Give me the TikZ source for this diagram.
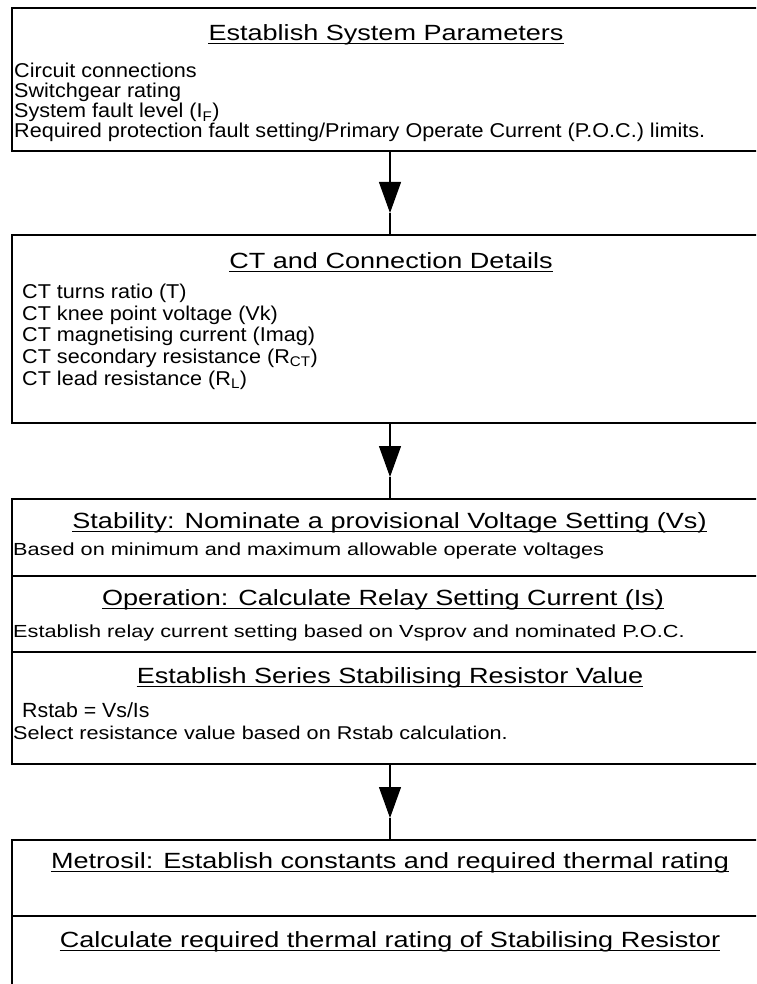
\documentclass[tikz,border=0pt]{standalone}
\usepackage{fontspec}
\setmainfont{Liberation Sans}
\newfontfamily\headfont[FakeStretch=1.23]{Liberation Sans}
\newfontfamily\bodyfont[FakeStretch=1.08]{Liberation Sans}
\newfontfamily\subfont[FakeStretch=1.24]{Liberation Sans}
\newfontfamily\selfont[FakeStretch=1.17]{Liberation Sans}
\newfontfamily\rsfont[FakeStretch=1.04]{Liberation Sans}
\usetikzlibrary{arrows.meta}
\newcommand\myul[1]{\draw[uline] ([yshift=-3pt]#1.base west) -- ([yshift=-3pt]#1.base east);}
\begin{document}
\begin{tikzpicture}[x=1pt,y=1pt,
  box/.style={draw=black, line width=1.2pt, rectangle, inner sep=0pt, outer sep=0pt, anchor=north west, minimum width=756pt},
  divider/.style={draw=black, line width=1.2pt},
  conn/.style={draw=black, line width=1.1pt},
  tipped/.style={conn, -{Triangle[width=22pt,length=31pt]}},
  uline/.style={draw=black, line width=1pt},
  head/.style={inner sep=0pt, anchor=base, font=\headfont\fontsize{22}{22}\selectfont},
  body/.style={inner sep=0pt, anchor=base west, font=\bodyfont\fontsize{20}{20}\selectfont},
  sub/.style={inner sep=0pt, anchor=base west, font=\subfont\fontsize{17.5}{17.5}\selectfont},
  sel/.style={inner sep=0pt, anchor=base west, font=\selfont\fontsize{18.5}{18.5}\selectfont},
  rs/.style={inner sep=0pt, anchor=base west, font=\rsfont\fontsize{20.5}{20.5}\selectfont}
]
\useasboundingbox (0,0) rectangle (756,-984);
\clip (0,0) rectangle (756,-984);

% boxes
\node[box, minimum height=143pt] (b1) at (12,-8) {};
\node[box, minimum height=188pt] (b2) at (12,-235) {};
\node[box, minimum height=265pt] (b3) at (12,-499) {};
\node[box, minimum height=160pt] (b4) at (12,-840) {};
\draw[divider] (12,-576) -- (768,-576);
\draw[divider] (12,-652) -- (768,-652);
\draw[divider] (12,-916) -- (768,-916);

% connectors
\coordinate (t1) at ([yshift=22pt]b2.north);
\coordinate (t2) at ([yshift=22pt]b3.north);
\coordinate (t3) at ([yshift=22pt]b4.north);
\draw[tipped] (b1.south) -- (t1);
\draw[conn] (t1) -- (b2.north);
\draw[tipped] (b2.south) -- (t2);
\draw[conn] (t2) -- (b3.north);
\draw[tipped] (b3.south) -- (t3);
\draw[conn] (t3) -- (b4.north);

% box 1
\node[head] (h1) at (386,-41) {Establish System Parameters};
\myul{h1}
\node[body] (l11) at (14,-78) {Circuit connections};
\node[body] (l12) at (14,-98) {Switchgear rating};
\node[body] (l13) at (14,-118) {System fault level (I\textsubscript{F})};
\node[body] (l14) at (14,-138) {Required protection fault setting/Primary Operate Current (P.O.C.) limits.};

% box 2
\node[head] (h2) at (391,-268) {CT and Connection Details};
\myul{h2}
\node[body] (l21) at (22,-298) {CT turns ratio (T)};
\node[body] (l22) at (22,-320) {CT knee point voltage (Vk)};
\node[body] (l23) at (22,-341.5) {CT magnetising current (Imag)};
\node[body] (l24) at (22,-363) {CT secondary resistance (R\textsubscript{CT})};
\node[body] (l25) at (22,-385) {CT lead resistance (R\textsubscript{L})};

% box 3
\node[head] (h31) at (389.5,-528) {Stability: Nominate a provisional Voltage Setting (Vs)};
\myul{h31}
\node[sub] (l31) at (13,-555) {Based on minimum and maximum allowable operate voltages};
\node[head] (h32) at (383,-605) {Operation: Calculate Relay Setting Current (Is)};
\myul{h32}
\node[sub] (l32) at (13,-637) {Establish relay current setting based on Vsprov and nominated P.O.C.};
\node[head] (h33) at (390,-683) {Establish Series Stabilising Resistor Value};
\myul{h33}
\node[rs] (l33) at (22,-717) {Rstab = Vs/Is};
\node[sel] (l34) at (13,-739) {Select resistance value based on Rstab calculation.};

% box 4
\node[head] (h41) at (390,-868) {Metrosil: Establish constants and required thermal rating};
\myul{h41}
\node[head] (h42) at (390,-947) {Calculate required thermal rating of Stabilising Resistor};
\myul{h42}
\end{tikzpicture}
\end{document}
